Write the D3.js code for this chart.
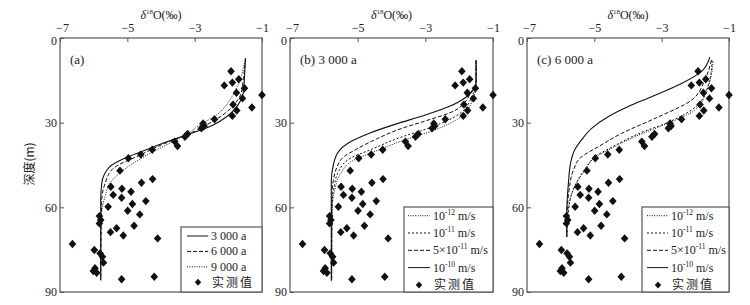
<!DOCTYPE html>
<html>
<head>
<meta charset="utf-8">
<script src="https://cdn.jsdelivr.net/npm/d3@7"></script>
<style>
body { margin: 0; background: #fff; }
text { font-family: "Liberation Serif", "Times New Roman", serif; fill: #222; }
.cjk { font-family: "Noto Sans CJK SC", sans-serif; }
</style>
</head>
<body>
<div id="chart"></div>
<script>

// axis ticks
var xTicks = [-7, -5, -3, -1];
var yTicks = [0, 30, 60, 90];

// measured delta18O (permil) and depth (m), same points in every panel
var measuredO18 = [-1.92, -2.12, -1.88, -1.69, -1.76, -1.52, -1.58, -1.00, -1.86, -1.75,
                   -1.30, -1.88, -2.41, -2.75, -2.72, -2.80, -3.21, -3.29, -3.59, -3.51,
                   -4.26, -4.60, -4.97, -5.22, -4.25, -4.58, -5.49, -5.16, -4.89, -5.42,
                   -5.17, -4.45, -4.85, -5.57, -4.99, -4.63, -5.83, -5.79, -5.83, -4.80,
                   -5.32, -5.50, -5.12, -4.10, -6.63, -5.98, -5.81, -5.74, -5.71, -5.96,
                   -6.01, -5.91, -5.17, -4.20];
var measuredDepth = [11.8, 16.8, 15.8, 14.6, 19.4, 17.8, 21.4, 20.2, 23.6, 25.7,
                     24.6, 27.6, 28.8, 30.3, 31.2, 32.0, 34.0, 35.0, 36.7, 38.3,
                     39.6, 41.3, 42.6, 47.0, 50.0, 51.3, 52.7, 53.4, 54.5, 55.6,
                     56.6, 57.8, 58.8, 59.8, 61.2, 62.5, 63.1, 64.5, 65.7, 66.5,
                     67.4, 68.8, 70.0, 71.0, 73.0, 75.1, 76.3, 77.5, 79.6, 81.6,
                     82.6, 83.2, 85.5, 84.6];

// (a) simulated profiles after 3000, 6000, 9000 a  [delta18O, depth]
var a3000 = [[-1.49,7.2],[-1.52,13.7],[-1.56,19.6],[-1.71,23.7],[-2.05,27.9],[-2.45,30.8],[-2.85,32.8],
             [-3.34,34.7],[-3.54,35.5],[-4.33,39.1],[-5.02,42.3],[-5.52,45.6],[-5.76,51.5],[-5.79,57.4],[-5.79,85.8]];
var a6000 = [[-1.49,7.2],[-1.55,14],[-1.62,19.6],[-1.82,23.5],[-2.2,27.6],[-2.65,30.8],[-3.0,33],
             [-3.34,34.8],[-3.6,36],[-4.2,39],[-4.63,41.5],[-5.42,46.2],[-5.66,51.5],[-5.76,57.4],[-5.79,85.8]];
var a9000 = [[-1.49,7.2],[-1.66,14.9],[-1.96,22],[-2.35,27.3],[-2.85,30.8],[-3.2,33.8],[-3.5,35.8],
             [-4.33,40.9],[-5.12,46.8],[-5.52,51.5],[-5.66,56.2],[-5.76,61],[-5.79,66],[-5.79,85.8]];

// (b) 3000 a, different conductivities
var b1e12 = [[-1.5,8],[-1.5,17.5],[-1.58,21],[-1.9,27.5],[-2.7,32.5],[-3.7,36.5],[-4.55,40.5],
             [-5.15,43.5],[-5.5,48],[-5.68,54],[-5.76,62],[-5.77,86]];
var b1e11 = [[-1.5,8],[-1.5,17],[-1.6,20],[-1.95,26.5],[-2.8,31.5],[-3.8,35.5],[-4.6,39.5],
             [-5.2,42.5],[-5.55,47],[-5.7,53],[-5.76,60],[-5.77,86]];
var b5e11 = [[-1.5,8],[-1.5,16],[-1.61,18.4],[-2.1,25.5],[-3.0,29.4],[-3.69,32],[-4.45,35.8],
             [-5.05,39.5],[-5.4,42],[-5.62,46],[-5.72,50.5],[-5.76,56],[-5.77,86]];
var b1e10 = [[-1.5,8],[-1.5,15.5],[-1.62,19],[-1.8,21],[-2.3,24.3],[-3.0,27.3],[-3.9,30.6],
             [-4.67,33.8],[-5.2,36.7],[-5.55,40],[-5.72,45],[-5.78,51],[-5.78,86]];

// (c) 6000 a, different conductivities
var c1e12 = [[-1.47,8.4],[-1.62,17.3],[-2.01,25.5],[-2.81,30.2],[-3.8,35],[-4.59,39.7],[-4.98,42.3],
             [-5.28,46.8],[-5.53,51.5],[-5.7,56.2],[-5.77,61],[-5.82,70.5]];
var c1e11 = [[-1.5,8],[-1.6,16],[-1.95,24],[-2.7,29.3],[-3.7,34],[-4.5,38.8],[-4.95,41.8],
             [-5.25,46],[-5.5,50.5],[-5.68,55.5],[-5.77,61],[-5.82,70.5]];
var c5e11 = [[-1.52,7.8],[-1.72,14.9],[-2.11,22],[-3.2,28.5],[-4.19,33.8],[-4.88,38.5],[-5.4,42.3],
             [-5.62,46.8],[-5.75,53.9],[-5.8,60],[-5.82,70.5]];
var c1e10 = [[-1.57,6.8],[-1.82,11.9],[-2.41,16.1],[-3.30,20.8],[-3.99,24.3],[-4.59,27.9],[-5.08,32],
             [-5.38,36.1],[-5.6,40],[-5.7,44],[-5.77,51.5],[-5.82,63],[-5.82,70.5]];

var measured = measuredO18.map(function(v, i) { return [v, measuredDepth[i]]; });

var dashes = { solid: null, dashed: "4,2", dotted: "2,2", fine: "1,1.4" };
var diamond = "M0,-4.2L3.8,0L0,4.2L-3.8,0Z";

var svg = d3.select("#chart").append("svg")
    .attr("width", 750)
    .attr("height", 305);

var plotTop = 38, plotBottom = 292;

function drawPanel(left, right, opts) {
  var x = d3.scaleLinear().domain([-7, -1]).range([left, right]);
  var y = d3.scaleLinear().domain([0, 90]).range([plotTop, plotBottom]);
  var g = svg.append("g");

  // top axis
  var ax = g.append("g")
    .attr("transform", "translate(0," + plotTop + ")")
    .call(d3.axisTop(x).tickValues(xTicks).tickSizeInner(-4).tickSizeOuter(0).tickPadding(6).tickFormat(d3.format("d")));
  ax.select(".domain").remove();
  ax.selectAll("line").attr("stroke", "#555");
  ax.selectAll("text").attr("font-size", 12).style("font-family", "Liberation Serif").attr("fill", "#222")
    .attr("dx", function(d) { return d == -7 ? 2 : 0; });

  // left axis
  var ay = g.append("g")
    .attr("transform", "translate(" + left + ",0)")
    .call(d3.axisLeft(y).tickValues(yTicks).tickSizeInner(-4).tickSizeOuter(0).tickPadding(3));
  ay.select(".domain").remove();
  ay.selectAll("line").attr("stroke", "#555");
  ay.selectAll("text").attr("font-size", 12).style("font-family", "Liberation Serif").attr("fill", "#222")
    .attr("dy", function(d) { return d == 0 ? "0.5em" : "0.32em"; });

  // frame
  g.append("rect")
    .attr("x", left).attr("y", plotTop)
    .attr("width", right - left).attr("height", plotBottom - plotTop)
    .attr("fill", "none").attr("stroke", "#555").attr("stroke-width", 1.2);

  // x title
  var t = g.append("text")
    .attr("x", (left + right) / 2).attr("y", 19)
    .attr("text-anchor", "middle").attr("font-size", 12);
  t.append("tspan").attr("font-style", "italic").text("δ");
  t.append("tspan").attr("font-size", 7).attr("dy", -5).text("18");
  t.append("tspan").attr("dy", 5).text("O(‰)");

  // panel label
  g.append("text")
    .attr("x", left + 10).attr("y", 64)
    .attr("font-size", 13)
    .text(opts.label);

  // curves
  var line = d3.line()
    .x(function(d) { return x(d[0]); })
    .y(function(d) { return y(d[1]); })
    .curve(d3.curveMonotoneY);

  opts.series.forEach(function(s) {
    g.append("path")
      .datum(s.data)
      .attr("fill", "none")
      .attr("stroke", "#111")
      .attr("stroke-width", s.style == "solid" ? 1.1 : 1)
      .attr("stroke-dasharray", dashes[s.style])
      .attr("d", line);
  });

  // measured points
  g.selectAll("path.pt").data(measured).enter()
    .append("path")
      .attr("class", "pt")
      .attr("d", diamond)
      .attr("fill", "#111")
      .attr("transform", function(d) { return "translate(" + x(d[0]) + "," + y(d[1]) + ")"; });

  // legend
  var lg = opts.legend;
  var lx = right - lg.width;
  g.append("rect")
    .attr("x", lx).attr("y", lg.top)
    .attr("width", lg.width).attr("height", plotBottom - lg.top)
    .attr("fill", "#fff").attr("stroke", "#555").attr("stroke-width", 1.2);

  opts.series.slice().reverse().concat([{ point: true }]).forEach(function(s, i) {
    var ry = lg.top + lg.first + i * lg.step;
    if (s.point) {
      g.append("path").attr("d", "M0,-3.5L3.2,0L0,3.5L-3.2,0Z").attr("fill", "#111")
        .attr("transform", "translate(" + (lx + lg.sample[0] + 11) + "," + ry + ")");
      g.append("text").attr("class", "cjk")
        .attr("x", lx + lg.sample[1] + 4).attr("y", ry + 4.5)
        .attr("font-size", 12).attr("letter-spacing", 2)
        .text("实测值");
      return;
    }
    g.append("line")
      .attr("x1", lx + lg.sample[0]).attr("x2", lx + lg.sample[1])
      .attr("y1", ry).attr("y2", ry)
      .attr("stroke", "#111").attr("stroke-width", 1)
      .attr("stroke-dasharray", dashes[s.style]);
    var tx = g.append("text")
      .attr("x", lx + lg.sample[1] + 3).attr("y", ry + 4)
      .attr("font-size", 12);
    var shift = 0;
    s.label.forEach(function(p) {
      if (p.sup) {
        tx.append("tspan").attr("font-size", 7.5).attr("dy", -5).text(p.sup);
        shift = 5;
      } else {
        tx.append("tspan").attr("dy", shift).text(p.t);
        shift = 0;
      }
    });
  });
}

drawPanel(60, 262, {
  label: "(a)",
  series: [
    { data: a9000, style: "fine", label: [{ t: "9 000 a" }] },
    { data: a6000, style: "dashed", label: [{ t: "6 000 a" }] },
    { data: a3000, style: "solid", label: [{ t: "3 000 a" }] }
  ],
  legend: { width: 81, top: 227, first: 9, step: 15.4, sample: [6, 27] }
});

var kSeries = function(sfx) {
  return [
    { data: sfx[0], style: "fine", label: [{ t: "10" }, { sup: "-12" }, { t: " m/s" }] },
    { data: sfx[1], style: "dotted", label: [{ t: "10" }, { sup: "-11" }, { t: " m/s" }] },
    { data: sfx[2], style: "dashed", label: [{ t: "5×10" }, { sup: "-11" }, { t: " m/s" }] },
    { data: sfx[3], style: "solid", label: [{ t: "10" }, { sup: "-10" }, { t: " m/s" }] }
  ].reverse();
};

drawPanel(290, 493, {
  label: "(b) 3 000 a",
  series: kSeries([b1e12, b1e11, b5e11, b1e10]),
  legend: { width: 89, top: 207, first: 8.7, step: 17.3, sample: [4, 26] }
});

drawPanel(527, 729, {
  label: "(c) 6 000 a",
  series: kSeries([c1e12, c1e11, c5e11, c1e10]),
  legend: { width: 87, top: 207, first: 8.7, step: 17.3, sample: [5, 26] }
});

// y title
svg.append("text")
  .attr("class", "cjk")
  .attr("transform", "translate(34,164) rotate(-90)")
  .attr("text-anchor", "middle")
  .attr("font-size", 12)
  .text("深度(m)");

</script>
</body>
</html>
